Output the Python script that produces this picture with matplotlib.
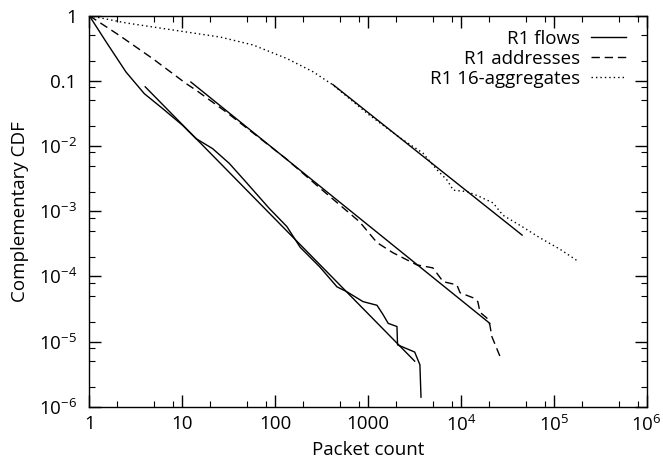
import matplotlib
matplotlib.use('Agg')
import matplotlib.pyplot as plt
import numpy as np

# R1 flows: measured CCDF
flows_x = [1, 1.52, 2.48, 3.91, 6.17, 10.1, 14.1, 21.3, 32.2, 48.6, 86.7, 134, 186, 302,
           464, 593, 883, 1250, 1450, 1650, 2050, 2080, 3180, 3620, 3720]
flows_y = [1, 0.395, 0.137, 0.0636, 0.0375, 0.0208, 0.013, 0.0091, 0.0054, 0.0028, 0.0011,
           5.8e-4, 2.8e-4, 1.4e-4, 6.9e-5, 5.8e-5, 4.1e-5, 3.6e-5, 2.6e-5, 1.9e-5, 1.7e-5,
           8.9e-6, 6.9e-6, 4.4e-6, 1.4e-6]
flows_fit_x = [4.0, 3180]
flows_fit_y = [0.081, 5.0e-6]

# R1 addresses
addr_x = [1, 2.1, 4.8, 11.0, 14.1, 30, 131, 300, 810, 1250, 1860, 3360, 4990, 6440, 9050,
          9800, 13500, 15200, 16100, 19000, 20500, 21500, 26500]
addr_y = [1, 0.50, 0.22, 0.091, 0.072, 0.033, 0.0064, 0.0023, 6.9e-4, 3.3e-4, 2.3e-4,
          1.5e-4, 1.35e-4, 8.3e-5, 7.4e-5, 5.6e-5, 4.7e-5, 4.1e-5, 2.8e-5, 2.3e-5, 1.8e-5,
          1.2e-5, 5.8e-6]
addr_fit_x = [12.4, 20500]
addr_fit_y = [0.096, 1.9e-5]

# R1 16-aggregates
agg_x = [1, 2.55, 11.3, 25.7, 58, 134, 256, 418, 1000, 2220, 3900, 5540, 7100, 8280, 11700,
         16100, 22200, 28300, 46500, 71000, 117000, 183000]
agg_y = [1, 0.77, 0.56, 0.47, 0.355, 0.22, 0.138, 0.087, 0.031, 0.0133, 0.0078, 0.0043,
         0.0030, 0.0021, 0.0020, 0.00166, 0.00134, 8.7e-4, 5.7e-4, 3.9e-4, 2.6e-4, 1.7e-4]
agg_fit_x = [418, 45600]
agg_fit_y = [0.088, 4.3e-4]

xtick_vals = [1, 10, 100, 1000, 1e4, 1e5, 1e6]
xtick_labels = ['1', '10', '100', '1000', r'$10^4$', r'$10^5$', r'$10^6$']
ytick_vals = [1, 0.1, 1e-2, 1e-3, 1e-4, 1e-5, 1e-6]
ytick_labels = ['1', '0.1', r'$10^{-2}$', r'$10^{-3}$', r'$10^{-4}$', r'$10^{-5}$', r'$10^{-6}$']

plt.rcParams['font.family'] = ['Open Sans', 'DejaVu Sans']
plt.rcParams['mathtext.default'] = 'regular'
plt.rcParams['font.size'] = 13.5

fig = plt.figure(figsize=(6.63, 4.62), dpi=100)
ax = fig.add_axes([0.1347, 0.1197, 0.8407, 0.8463])

lw = 1.0
ax.plot(flows_x, flows_y, color='black', lw=lw, label='R1 flows')
ax.plot(addr_x, addr_y, color='black', lw=lw, dashes=(6, 3.5), label='R1 addresses')
ax.plot(agg_x, agg_y, color='black', lw=lw, dashes=(1, 2.2), label='R1 16-aggregates')
for fx, fy in [(flows_fit_x, flows_fit_y), (addr_fit_x, addr_fit_y), (agg_fit_x, agg_fit_y)]:
    ax.plot(fx, fy, color='black', lw=lw)

ax.set_xscale('log')
ax.set_yscale('log')
ax.set_xlim(1, 1e6)
ax.set_ylim(1e-6, 1)

ax.set_xticks(xtick_vals)
ax.set_xticklabels(xtick_labels)
ax.set_yticks(ytick_vals)
ax.set_yticklabels(ytick_labels)

x_minor = [m * 10.0 ** d for d in range(6) for m in (2, 5, 8)]
y_minor = [m * 10.0 ** d for d in range(-6, 0) for m in (2, 5, 8) if m * 10.0 ** d < 0.7]
ax.set_xticks(x_minor, minor=True)
ax.set_yticks(y_minor, minor=True)
ax.tick_params(which='both', direction='in', top=True, right=True, color='black')
ax.tick_params(which='major', length=8.5, width=1.0)
ax.tick_params(which='minor', length=4.5, width=0.8, labelbottom=False, labelleft=False)
ax.tick_params(axis='x', which='major', pad=6)
ax.tick_params(axis='y', which='major', pad=9)
for s in ax.spines.values():
    s.set_linewidth(1.0)

ax.set_xlabel('Packet count', labelpad=4)
ax.set_ylabel('Complementary CDF', labelpad=7)

ax.legend(loc='upper right', bbox_to_anchor=(626 / 663, 1 - 30 / 462),
          bbox_transform=fig.transFigure, frameon=False, markerfirst=False,
          handlelength=1.85, handletextpad=0.6, labelspacing=0.1,
          borderaxespad=0, borderpad=0)

fig.savefig('out.png', dpi=100)
